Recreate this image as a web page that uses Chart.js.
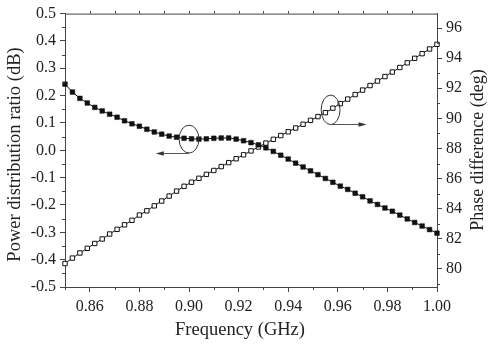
<!DOCTYPE html>
<html>
<head>
<meta charset="utf-8">
<script src="https://cdn.jsdelivr.net/npm/chart.js@4.4.1/dist/chart.umd.min.js"></script>
<style>
  html, body { margin: 0; padding: 0; background: #fff; }
</style>
</head>
<body>
<canvas id="c" width="489" height="346"></canvas>
<script>
// measured sweep, 3 MHz step
const freq = [
  0.850, 0.853, 0.856, 0.859, 0.862, 0.865, 0.868, 0.871, 0.874, 0.877,
  0.880, 0.883, 0.886, 0.889, 0.892, 0.895, 0.898, 0.901, 0.904, 0.907,
  0.910, 0.913, 0.916, 0.919, 0.922, 0.925, 0.928, 0.931, 0.934, 0.937,
  0.940, 0.943, 0.946, 0.949, 0.952, 0.955, 0.958, 0.961, 0.964, 0.967,
  0.970, 0.973, 0.976, 0.979, 0.982, 0.985, 0.988, 0.991, 0.994, 0.997,
  1.000
];
// power distribution ratio (dB), left axis
const powerRatio = [
  0.242, 0.213, 0.190, 0.173, 0.157, 0.144, 0.132, 0.121, 0.108, 0.097,
  0.088, 0.077, 0.067, 0.059, 0.052, 0.048, 0.044, 0.042, 0.041, 0.042,
  0.044, 0.045, 0.045, 0.041, 0.035, 0.028, 0.020, 0.009, -0.004, -0.018,
  -0.032, -0.047, -0.061, -0.075, -0.089, -0.103, -0.117, -0.131, -0.143, -0.157,
  -0.170, -0.185, -0.198, -0.211, -0.223, -0.237, -0.251, -0.264, -0.277, -0.290,
  -0.303
];
// phase difference (deg), right axis
const phaseDiff = [
  80.36, 80.72, 81.06, 81.37, 81.69, 81.99, 82.32, 82.63, 82.93, 83.23,
  83.58, 83.86, 84.19, 84.51, 84.84, 85.17, 85.49, 85.76, 86.02, 86.28,
  86.54, 86.80, 87.06, 87.32, 87.58, 87.84, 88.10, 88.36, 88.61, 88.86,
  89.11, 89.36, 89.61, 89.87, 90.12, 90.38, 90.68, 90.98, 91.28, 91.58,
  91.88, 92.18, 92.48, 92.78, 93.08, 93.38, 93.69, 93.99, 94.30, 94.61,
  94.92
];

const freqTicks = [0.86, 0.88, 0.90, 0.92, 0.94, 0.96, 0.98, 1.00];
const freqMinor = [0.85, 0.87, 0.89, 0.91, 0.93, 0.95, 0.97, 0.99];
const freqTop = [0.86, 0.87, 0.88, 0.89, 0.90, 0.91, 0.92, 0.93, 0.94, 0.95, 0.96, 0.97, 0.98, 0.99];
const ratioTicks = [-0.5, -0.4, -0.3, -0.2, -0.1, 0.0, 0.1, 0.2, 0.3, 0.4, 0.5];
const ratioMinor = [-0.45, -0.35, -0.25, -0.15, -0.05, 0.05, 0.15, 0.25, 0.35, 0.45];
const phaseTicks = [80, 82, 84, 86, 88, 90, 92, 94, 96];
const phaseMinor = [79, 81, 83, 85, 87, 89, 91, 93, 95];

const serif = '"Liberation Serif", "DejaVu Serif", serif';
const textCol = '#222';
const axisCol = '#444';

// loops marking which curve belongs to which axis (freq / left-axis units)
const loops = [
  { x: 0.9000, y: 0.041, rx: 0.0040, ry: 0.051, arrowY: -0.010, arrowTo: 0.8866 },
  { x: 0.9571, y: 0.148, rx: 0.0038, ry: 0.054, arrowY: 0.096, arrowTo: 0.9716 }
];

const setTicks = vals => scale => { scale.ticks = vals.map(v => ({ value: v })); };

const extras = {
  id: 'extras',
  afterDraw(chart) {
    const ctx = chart.ctx;
    const { x, y, y2 } = chart.scales;
    const a = chart.chartArea;
    ctx.save();

    // top frame line with small outward ticks
    ctx.strokeStyle = axisCol;
    ctx.lineWidth = 1;
    ctx.beginPath();
    ctx.moveTo(a.left, a.top + 0.5);
    ctx.lineTo(a.right, a.top + 0.5);
    freqTop.forEach(v => {
      const px = Math.round(x.getPixelForValue(v)) + 0.5;
      ctx.moveTo(px, a.top);
      ctx.lineTo(px, a.top - 2.5);
    });
    // minor ticks
    freqMinor.forEach(v => {
      const px = Math.round(x.getPixelForValue(v)) + 0.5;
      ctx.moveTo(px, a.bottom);
      ctx.lineTo(px, a.bottom + 3);
    });
    ratioMinor.forEach(v => {
      const py = Math.round(y.getPixelForValue(v)) + 0.5;
      ctx.moveTo(a.left, py);
      ctx.lineTo(a.left - 3, py);
    });
    phaseMinor.forEach(v => {
      const py = Math.round(y2.getPixelForValue(v)) + 0.5;
      ctx.moveTo(a.right, py);
      ctx.lineTo(a.right + 3, py);
    });
    ctx.stroke();

    // loops and arrows
    loops.forEach(l => {
      const cx = x.getPixelForValue(l.x), cy = y.getPixelForValue(l.y);
      const rx = Math.abs(x.getPixelForValue(l.x + l.rx) - cx);
      const ry = Math.abs(y.getPixelForValue(l.y + l.ry) - cy);
      ctx.strokeStyle = '#333';
      ctx.lineWidth = 1;
      ctx.beginPath();
      ctx.ellipse(cx, cy, rx, ry, 0, 0, Math.PI * 2);
      ctx.stroke();

      const ay = Math.round(y.getPixelForValue(l.arrowY)) + 0.5;
      const tip = x.getPixelForValue(l.arrowTo);
      const dir = tip < cx ? -1 : 1;
      ctx.strokeStyle = '#555';
      ctx.beginPath();
      ctx.moveTo(cx, ay);
      ctx.lineTo(tip - dir * 6, ay);
      ctx.stroke();
      ctx.fillStyle = '#333';
      ctx.beginPath();
      ctx.moveTo(tip, ay);
      ctx.lineTo(tip - dir * 8, ay - 2.2);
      ctx.lineTo(tip - dir * 8, ay + 2.2);
      ctx.closePath();
      ctx.fill();
    });

    // axis titles
    ctx.fillStyle = textCol;
    ctx.textAlign = 'center';
    ctx.textBaseline = 'middle';
    ctx.font = '18.5px ' + serif;
    ctx.fillText('Frequency (GHz)', 240, 330);

    ctx.save();
    ctx.translate(15, 154.5);
    ctx.rotate(-Math.PI / 2);
    ctx.fillText('Power distribution ratio (dB)', 0, 0);
    ctx.restore();

    ctx.save();
    ctx.font = '18px ' + serif;
    ctx.translate(478, 150);
    ctx.rotate(-Math.PI / 2);
    ctx.fillText('Phase difference (deg)', 0, 0);
    ctx.restore();

    ctx.restore();
  }
};

const tickFont = { family: serif, size: 16 };

new Chart(document.getElementById('c'), {
  type: 'line',
  data: {
    datasets: [
      {
        label: 'Power distribution ratio',
        data: freq.map((f, i) => ({ x: f, y: powerRatio[i] })),
        yAxisID: 'y',
        borderColor: '#111',
        borderWidth: 1,
        pointStyle: 'rect',
        pointRadius: 3.3,
        pointBackgroundColor: '#111',
        pointBorderColor: '#111',
        pointBorderWidth: 0.5,
        tension: 0,
        clip: false
      },
      {
        label: 'Phase difference',
        data: freq.map((f, i) => ({ x: f, y: phaseDiff[i] })),
        yAxisID: 'y2',
        borderColor: '#111',
        borderWidth: 1,
        pointStyle: 'rect',
        pointRadius: 3.1,
        pointBackgroundColor: '#fff',
        pointBorderColor: '#111',
        pointBorderWidth: 1,
        tension: 0,
        clip: false
      }
    ]
  },
  options: {
    responsive: false,
    animation: false,
    devicePixelRatio: 1,
    layout: { padding: { top: 8, left: 0, right: 0, bottom: 0 } },
    plugins: { legend: { display: false }, tooltip: { enabled: false } },
    scales: {
      x: {
        type: 'linear',
        position: 'bottom',
        min: 0.85,
        max: 1.00,
        afterBuildTicks: setTicks(freqTicks),
        afterFit: s => { s.height = 59; },
        ticks: { font: tickFont, color: textCol, padding: 5, maxRotation: 0, autoSkip: false,
                 callback: v => v.toFixed(2) },
        grid: { drawOnChartArea: false, drawTicks: true, tickLength: 5, color: axisCol },
        border: { color: axisCol, width: 1 }
      },
      y: {
        type: 'linear',
        position: 'left',
        min: -0.5,
        max: 0.5,
        afterBuildTicks: setTicks(ratioTicks),
        afterFit: s => { s.width = 65; },
        ticks: { font: tickFont, color: textCol, padding: 4, autoSkip: false,
                 callback: v => v.toFixed(1) },
        grid: { drawOnChartArea: false, drawTicks: true, tickLength: 5, color: axisCol },
        border: { color: axisCol, width: 1 }
      },
      y2: {
        type: 'linear',
        position: 'right',
        min: 78.8,
        max: 96.96,
        afterBuildTicks: setTicks(phaseTicks),
        afterFit: s => { s.width = 52; },
        ticks: { font: tickFont, color: textCol, padding: 4, autoSkip: false,
                 callback: v => String(v) },
        grid: { drawOnChartArea: false, drawTicks: true, tickLength: 5, color: axisCol },
        border: { color: axisCol, width: 1 }
      }
    }
  },
  plugins: [extras]
});
</script>
</body>
</html>
